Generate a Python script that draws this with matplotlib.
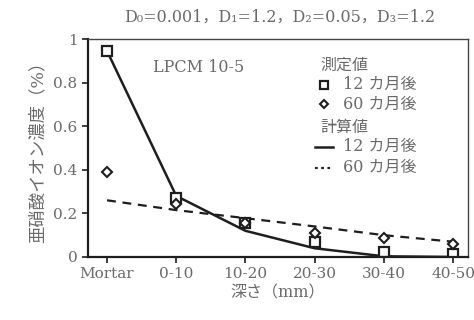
import matplotlib
matplotlib.use('Agg')

import matplotlib.pyplot as plt
from matplotlib.lines import Line2D

plt.rcParams['font.family'] = ['DejaVu Serif', 'Noto Sans CJK JP']

# Datos
categorias = ['Mortar', '0-10', '10-20', '20-30', '30-40', '40-50']
medido_12 = [0.945, 0.27, 0.155, 0.07, 0.025, 0.015]
medido_60 = [0.39, 0.245, 0.155, 0.11, 0.087, 0.06]
calculo_12 = [0.945, 0.28, 0.12, 0.04, 0.003, 0.0]
calculo_60 = [0.26, 0.215, 0.178, 0.14, 0.10, 0.07]
y_ticks = [0, 0.2, 0.4, 0.6, 0.8, 1]
y_labels = ['0', '0.2', '0.4', '0.6', '0.8', '1']

gris = '#6a6a6a'
negro = '#1e1e1e'

x = list(range(len(categorias)))

fig = plt.figure(figsize=(4.74, 3.2), dpi=100)
ax = fig.add_axes([0.1857, 0.197, 0.8017, 0.681])

ax.plot(x, calculo_12, color=negro, lw=1.8, solid_capstyle='round')
ax.plot(x, calculo_60, color=negro, lw=1.6, linestyle=(0, (4, 3)))
ax.plot(x, medido_12, linestyle='none', marker='s', markersize=7,
        markerfacecolor='white', markeredgecolor=negro, markeredgewidth=1.6)
ax.plot(x, medido_60, linestyle='none', marker='D', markersize=5,
        markerfacecolor='white', markeredgecolor=negro, markeredgewidth=1.5)

ax.set_xlim(-0.275, 5.217)
ax.set_ylim(0, 1)
ax.set_xticks(x)
ax.set_xticklabels(categorias)
ax.set_yticks(y_ticks)
ax.set_yticklabels(y_labels)
ax.tick_params(direction='out', length=4, width=1.2, colors=negro,
               labelcolor=gris, labelsize=11)

for lado in ['left', 'bottom']:
    ax.spines[lado].set_linewidth(1.6)
    ax.spines[lado].set_color(negro)
for lado in ['top', 'right']:
    ax.spines[lado].set_linewidth(1.0)
    ax.spines[lado].set_color('#444444')

ax.set_xlabel('深さ（mm）', color=gris, fontsize=11.5, labelpad=2)
ax.set_ylabel('亜硝酸イオン濃度（%）', color=gris, fontsize=12.5, labelpad=5)

fig.text(0.59, 0.945, 'D₀=0.001，D₁=1.2，D₂=0.05，D₃=1.2',
         ha='center', va='center', color=gris, fontsize=11.5)

ax.text(0.17, 0.87, 'LPCM 10-5', transform=ax.transAxes, ha='left',
        va='center', color=gris, fontsize=11.5)

# Leyenda dibujada a mano
tx = 0.612
filas = [0.88, 0.79, 0.70, 0.595, 0.505, 0.41]
ax.text(tx, filas[0], '測定値', transform=ax.transAxes, ha='left',
        va='center', color=gris, fontsize=11.5)
ax.add_line(Line2D([0.622], [filas[1]], transform=ax.transAxes, marker='s',
                   markersize=6, markerfacecolor='white',
                   markeredgecolor=negro, markeredgewidth=1.6))
ax.text(0.67, filas[1], '12 カ月後', transform=ax.transAxes, ha='left',
        va='center', color=gris, fontsize=11.5)
ax.add_line(Line2D([0.622], [filas[2]], transform=ax.transAxes, marker='D',
                   markersize=4.5, markerfacecolor='white',
                   markeredgecolor=negro, markeredgewidth=1.5))
ax.text(0.67, filas[2], '60 カ月後', transform=ax.transAxes, ha='left',
        va='center', color=gris, fontsize=11.5)
ax.text(tx, filas[3], '計算値', transform=ax.transAxes, ha='left',
        va='center', color=gris, fontsize=11.5)
ax.add_line(Line2D([0.597, 0.645], [filas[4], filas[4]],
                   transform=ax.transAxes, color=negro, lw=1.8))
ax.text(0.67, filas[4], '12 カ月後', transform=ax.transAxes, ha='left',
        va='center', color=gris, fontsize=11.5)
ax.add_line(Line2D([0.597, 0.645], [filas[5], filas[5]],
                   transform=ax.transAxes, color=negro, lw=1.6,
                   linestyle=(0, (1.2, 1.6))))
ax.text(0.67, filas[5], '60 カ月後', transform=ax.transAxes, ha='left',
        va='center', color=gris, fontsize=11.5)

plt.savefig('out.png', dpi=100)
plt.close(fig)
